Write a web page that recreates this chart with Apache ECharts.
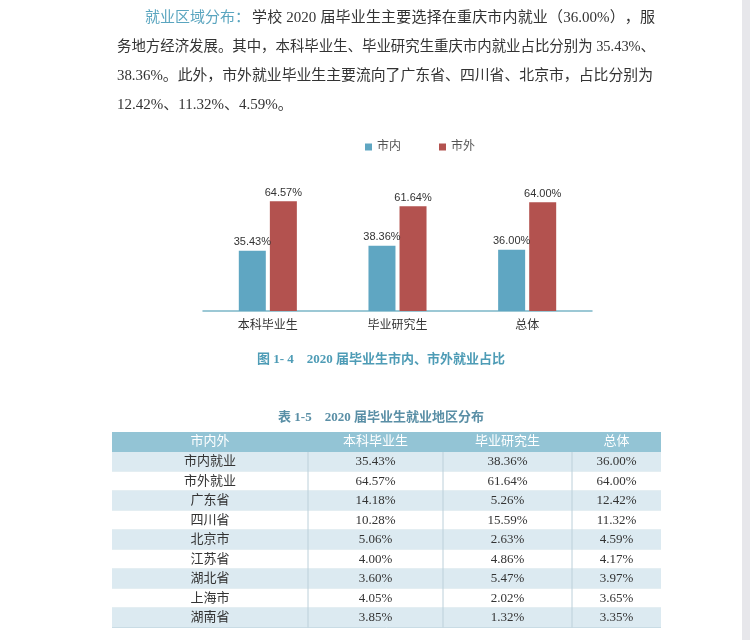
<!DOCTYPE html>
<html>
<head>
<meta charset="utf-8">
<script src="https://cdn.jsdelivr.net/npm/echarts@6/dist/echarts.min.js"></script>
<style>html,body{margin:0;padding:0;background:#fff;}#c{width:750px;height:640px;}</style>
</head>
<body>
<div id="c"></div>
<script>
// ---- data ----
var categories = ['本科毕业生', '毕业研究生', '总体'];
var seriesNames = ['市内', '市外'];
var localValues = [35.43, 38.36, 36.00];
var outsideValues = [64.57, 61.64, 64.00];

var paragraphLead = '就业区域分布：';
var paragraphLines = [
  '学校 2020 届毕业生主要选择在重庆市内就业（36.00%），服',
  '务地方经济发展。其中，本科毕业生、毕业研究生重庆市内就业占比分别为 35.43%、',
  '38.36%。此外，市外就业毕业生主要流向了广东省、四川省、北京市，占比分别为',
  '12.42%、11.32%、4.59%。'
];
var figureCaption = '图 1- 4　2020 届毕业生市内、市外就业占比';
var tableCaption = '表 1-5　2020 届毕业生就业地区分布';
var tableHeader = ['市内外', '本科毕业生', '毕业研究生', '总体'];
var tableRowNames = ['市内就业', '市外就业', '广东省', '四川省', '北京市', '江苏省', '湖北省', '上海市', '湖南省'];
var tableBachelor = ['35.43%', '64.57%', '14.18%', '10.28%', '5.06%', '4.00%', '3.60%', '4.05%', '3.85%'];
var tableMaster = ['38.36%', '61.64%', '5.26%', '15.59%', '2.63%', '4.86%', '5.47%', '2.02%', '1.32%'];
var tableTotal = ['36.00%', '64.00%', '12.42%', '11.32%', '4.59%', '4.17%', '3.97%', '3.65%', '3.35%'];

// ---- style / layout ----
var FONT = "'Liberation Serif', 'Noto Sans CJK SC', serif";
var SANS = "'Liberation Sans', 'Noto Sans CJK SC', sans-serif";
var TEAL = '#5aa5bf';
var BLUE = '#5fa6c2';
var RED = '#b3524f';

var graphics = [];
graphics.push({type: 'rect', shape: {x: 742, y: 0, width: 8, height: 640}, style: {fill: '#e7e7eb'}, silent: true});

// paragraph with justified lines
var measureCtx = document.createElement('canvas').getContext('2d');
var PFONT = '15px ' + FONT;
measureCtx.font = PFONT;
function tokenize(s) {
  var out = [], buf = '';
  for (var i = 0; i < s.length; i++) {
    var ch = s[i];
    if (/[\x21-\x7e]/.test(ch)) { buf += ch; }
    else {
      if (buf) { out.push(buf); buf = ''; }
      out.push(ch);
    }
  }
  if (buf) out.push(buf);
  return out;
}
function placeLine(text, left, right, y, justify, fill) {
  if (!justify) {
    graphics.push({type: 'text', x: left, y: y, style: {text: text, font: PFONT, fill: fill, verticalAlign: 'middle'}});
    return;
  }
  var natural = measureCtx.measureText(text).width;
  if (natural >= right - left) {
    graphics.push({type: 'text', x: left, y: y, scaleX: (right - left) / natural,
      style: {text: text, font: PFONT, fill: fill, verticalAlign: 'middle'}});
    return;
  }
  var toks = tokenize(text);
  var widths = toks.map(function (t) { return measureCtx.measureText(t).width; });
  var total = widths.reduce(function (a, b) { return a + b; }, 0);
  var gap = (right - left - total) / (toks.length - 1);
  var x = left;
  toks.forEach(function (t, i) {
    if (t !== ' ') graphics.push({type: 'text', x: x, y: y, style: {text: t, font: PFONT, fill: fill, verticalAlign: 'middle'}});
    x += widths[i] + gap;
  });
}
var lineY = [18, 47, 76, 105];
var leadWidth = measureCtx.measureText(paragraphLead).width;
placeLine(paragraphLead, 145, 145 + leadWidth, lineY[0], false, TEAL);
placeLine(paragraphLines[0], 145 + leadWidth + 2, 655, lineY[0], true, '#333');
placeLine(paragraphLines[1], 117, 655, lineY[1], true, '#333');
placeLine(paragraphLines[2], 117, 653, lineY[2], true, '#333');
placeLine(paragraphLines[3], 117, 0, lineY[3], false, '#333');

// captions
graphics.push({type: 'text', x: 381, y: 360, style: {text: figureCaption, font: 'bold 13px ' + FONT, fill: '#4e9cb6', align: 'center', verticalAlign: 'middle'}});
graphics.push({type: 'text', x: 381, y: 418, style: {text: tableCaption, font: 'bold 13px ' + FONT, fill: '#5a8fa6', align: 'center', verticalAlign: 'middle'}});

// table
var colEdges = [112, 308, 443, 572, 661];
var headTop = 432, headH = 20, rowH = 19.5;
graphics.push({type: 'rect', shape: {x: colEdges[0], y: headTop, width: colEdges[4] - colEdges[0], height: headH}, style: {fill: '#93c4d5'}});
tableHeader.forEach(function (h, c) {
  graphics.push({type: 'text', x: (colEdges[c] + colEdges[c + 1]) / 2, y: headTop + headH / 2, style: {text: h, font: '13px ' + FONT, fill: '#fff', align: 'center', verticalAlign: 'middle'}});
});
var columns = [tableRowNames, tableBachelor, tableMaster, tableTotal];
tableRowNames.forEach(function (name, r) {
  var y0 = headTop + headH + r * rowH;
  graphics.push({type: 'rect', shape: {x: colEdges[0], y: y0, width: colEdges[4] - colEdges[0], height: rowH}, style: {fill: r % 2 === 0 ? '#dceaf1' : '#ffffff'}});
  graphics.push({type: 'line', shape: {x1: colEdges[0], y1: y0 + rowH, x2: colEdges[4], y2: y0 + rowH}, style: {stroke: '#c9dce5', lineWidth: 1}});
  columns.forEach(function (col, c) {
    graphics.push({type: 'text', x: (colEdges[c] + colEdges[c + 1]) / 2, y: y0 + rowH / 2, style: {text: col[r], font: '13px ' + FONT, fill: '#333', align: 'center', verticalAlign: 'middle'}});
  });
});
for (var k = 1; k < colEdges.length - 1; k++) {
  graphics.push({type: 'line', shape: {x1: colEdges[k], y1: headTop + headH, x2: colEdges[k], y2: headTop + headH + tableRowNames.length * rowH}, style: {stroke: '#bcd0da', lineWidth: 1}});
}

var chart = echarts.init(document.getElementById('c'), null, {renderer: 'canvas'});
var labelOpt = {show: true, position: 'top', distance: 3, fontSize: 11, color: '#333', fontFamily: SANS,
  formatter: function (p) { return p.value.toFixed(2) + '%'; }};
chart.setOption({
  backgroundColor: '#ffffff',
  animation: false,
  legend: {
    data: seriesNames, top: 136, left: 360, itemWidth: 7, itemHeight: 7, itemGap: 38, icon: 'rect',
    textStyle: {fontSize: 12, color: '#555', fontFamily: FONT}
  },
  grid: {left: 203, right: 158, top: 192, bottom: 329, containLabel: false},
  xAxis: {
    type: 'category', data: categories,
    axisLine: {lineStyle: {color: '#7cb7c8', width: 1.5}},
    axisTick: {show: false},
    axisLabel: {fontSize: 12, color: '#333', fontFamily: FONT, margin: 9}
  },
  yAxis: {type: 'value', min: 0, max: 70, show: false, splitLine: {show: false}},
  series: [
    {name: seriesNames[0], type: 'bar', data: localValues, barWidth: 27, barGap: '15%', itemStyle: {color: BLUE}, label: labelOpt},
    {name: seriesNames[1], type: 'bar', data: outsideValues, barWidth: 27, barGap: '15%', itemStyle: {color: RED}, label: labelOpt}
  ],
  graphic: graphics
});
</script>
</body>
</html>
